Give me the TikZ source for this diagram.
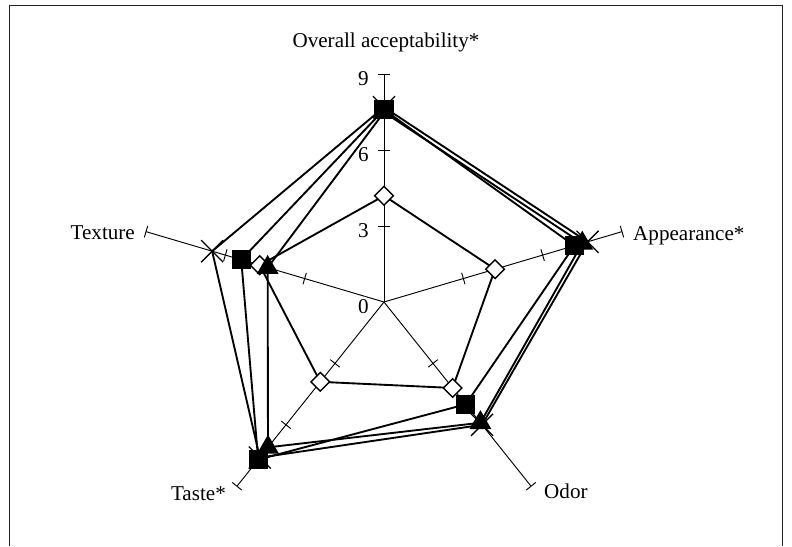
\documentclass[tikz,border=0pt]{standalone}
\usepackage{fontspec}
\setmainfont{Liberation Serif}
\usetikzlibrary{calc}

\begin{document}
\begin{tikzpicture}[x=0.03cm, y=-0.03cm, font=\fontsize{18}{21}\selectfont]

\def\cx{384}    % centre of the web
\def\cy{302}
\def\sx{27.8}   % one score unit, horizontal
\def\sy{25.3}   % one score unit, vertical
\def\tk{0.18cm} % half length of the ticks

\tikzset{axisline/.style = {line width=0.8pt},
         series/.style   = {line width=1.6pt, line join=round},
         lbl/.style      = {inner sep=0pt}}

\tikzset{sqmark/.pic  = {\fill (-0.29cm,-0.29cm) rectangle (0.29cm,0.29cm);}}
\tikzset{trimark/.pic = {\fill (90:0.38cm) -- (210:0.38cm) -- (330:0.38cm) -- cycle;}}
\tikzset{dimark/.pic  = {\draw[line width=1.2pt, fill=white]
                             (0cm,0.28cm) -- (0.28cm,0cm) -- (0cm,-0.28cm) -- (-0.28cm,0cm) -- cycle;}}
\tikzset{xmark/.pic   = {\draw[line width=1.1pt] (-0.33cm,-0.33cm) -- (0.33cm,0.33cm)
                                                 (-0.33cm,0.33cm) -- (0.33cm,-0.33cm);}}

\useasboundingbox (0,0) rectangle (792,546);

% frame
\draw[line width=0.8pt, black!85] (9,546) -- (9,5) -- (782,5) -- (782,546);

% axes
\coordinate (O)  at (\cx,\cy);
\coordinate (E1) at ({\cx+9*\sx*cos(90)},{\cy-9*\sy*sin(90)});
\coordinate (E2) at ({\cx+9*\sx*cos(18)},{\cy-9*\sy*sin(18)});
\coordinate (E3) at ({\cx+9*\sx*cos(-54)},{\cy-9*\sy*sin(-54)});
\coordinate (E4) at ({\cx+9*\sx*cos(-126)},{\cy-9*\sy*sin(-126)});
\coordinate (E5) at ({\cx+9*\sx*cos(162)},{\cy-9*\sy*sin(162)});

\foreach \i in {1,...,5}{
  \draw[axisline] (O) -- (E\i);
  \foreach \f in {3,6,9}
    \draw[axisline] ($(O)!\f/9!(E\i)!\tk!90:(O)$) -- ($(O)!\f/9!(E\i)!\tk!-90:(O)$);
}

% scores (diamond, square, triangle, cross)
\coordinate (D1) at ($(O)!4.2/9!(E1)$);
\coordinate (D2) at ($(O)!4.2/9!(E2)$);
\coordinate (D3) at ($(O)!4.2/9!(E3)$);
\coordinate (D4) at ($(O)!3.9/9!(E4)$);
\coordinate (D5) at ($(O)!4.7/9!(E5)$);

\coordinate (S1) at ($(O)!7.6/9!(E1)$);
\coordinate (S2) at ($(O)!7.2/9!(E2)$);
\coordinate (S3) at ($(O)!5.0/9!(E3)$);
\coordinate (S4) at ($(O)!7.7/9!(E4)$);
\coordinate (S5) at ($(O)!5.4/9!(E5)$);

\coordinate (T1) at ($(O)!7.5/9!(E1)$);
\coordinate (T2) at ($(O)!7.5/9!(E2)$);
\coordinate (T3) at ($(O)!5.9/9!(E3)$);
\coordinate (T4) at ($(O)!7.1/9!(E4)$);
\coordinate (T5) at ($(O)!4.4/9!(E5)$);

\coordinate (X1) at ($(O)!7.7/9!(E1)$);
\coordinate (X2) at ($(O)!7.7/9!(E2)$);
\coordinate (X3) at ($(O)!6.0/9!(E3)$);
\coordinate (X4) at ($(O)!7.6/9!(E4)$);
\coordinate (X5) at ($(O)!6.5/9!(E5)$);

% series lines
\draw[series] (D1) -- (D2) -- (D3) -- (D4) -- (D5) -- cycle;
\draw[series] (S1) -- (S2) -- (S3) -- (S4) -- (S5) -- cycle;
\draw[series] (T1) -- (T2) -- (T3) -- (T4) -- (T5) -- cycle;
\draw[series] (X1) -- (X2) -- (X3) -- (X4) -- (X5) -- cycle;

% markers
\path (D1) pic{dimark} (D2) pic{dimark} (D3) pic{dimark} (D4) pic{dimark} (D5) pic{dimark};
\path (X1) pic{xmark} (X2) pic{xmark} (X3) pic{xmark} (X4) pic{xmark} (X5) pic{xmark};
\path (T1) pic{trimark} (T2) pic{trimark} (T3) pic{trimark} (T4) pic{trimark} (T5) pic{trimark};
\path (S1) pic{sqmark} (S2) pic{sqmark} (S3) pic{sqmark} (S4) pic{sqmark} (S5) pic{sqmark};

% labels
\node[lbl, anchor=base]      (tOA) at (386,47)  {Overall acceptability*};
\node[lbl, anchor=base west] (tAP) at (633,240) {Appearance*};
\node[lbl, anchor=base west] (tOD) at (544,498) {Odor};
\node[lbl, anchor=base east] (tTA) at (226,500) {Taste*};
\node[lbl, anchor=base east] (tTE) at (135,239) {Texture};

\node[lbl, anchor=base east] (n9) at (369,85)  {9};
\node[lbl, anchor=base east] (n6) at (369,161) {6};
\node[lbl, anchor=base east] (n3) at (369,237) {3};
\node[lbl, anchor=base east] (n0) at (369,313) {0};

\end{tikzpicture}
\end{document}
